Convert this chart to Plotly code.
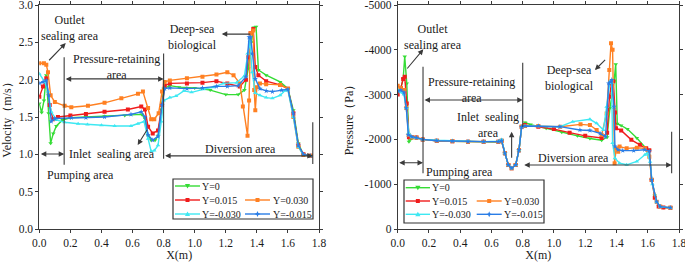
import plotly.graph_objects as go

# ---------------- data ----------------
series_names = ["Y=0", "Y=0.015", "Y=0.030", "Y=-0.030", "Y=-0.015"]
series_colors = ["#35dc35", "#f01c1c", "#ff8022", "#3ee8f2", "#2a7de6"]
series_symbols = ["triangle-down", "square", "square", "triangle-up", "star"]

# Velocity (m/s) vs X (m)
vx_y0 = [0, 0.015, 0.03, 0.045, 0.06, 0.073, 0.09, 0.11, 0.15, 0.2, 0.3, 0.42, 0.55, 0.66, 0.68, 0.70, 0.72,
         0.745, 0.765, 0.785, 0.80, 0.84, 0.9, 1.0, 1.1, 1.2, 1.28, 1.32, 1.345, 1.365, 1.38, 1.395, 1.41,
         1.46, 1.55, 1.6, 1.635, 1.667, 1.70, 1.745]
v_y0 = [1.68, 1.56, 1.72, 2.06, 1.55, 1.15, 1.28, 1.38, 1.46, 1.49, 1.50, 1.51, 1.52, 1.535, 1.48, 1.25, 1.19,
        1.19, 1.25, 1.6, 1.88, 1.92, 1.90, 1.89, 1.86, 1.80, 1.80, 1.86, 2.15, 2.5, 2.7, 2.71, 2.13,
        2.06, 1.97, 1.88, 1.59, 1.15, 0.99, 0.98]

vx_y015 = [0, 0.024, 0.045, 0.067, 0.088, 0.12, 0.2, 0.3, 0.42, 0.57, 0.656, 0.68, 0.70, 0.73, 0.764, 0.79,
           0.807, 0.84, 0.95, 1.05, 1.14, 1.21, 1.29, 1.33, 1.345, 1.36, 1.377, 1.39, 1.41, 1.46, 1.55, 1.6,
           1.635, 1.667, 1.70, 1.745]
v_y015 = [1.77, 1.91, 2.02, 1.66, 1.47, 1.50, 1.52, 1.54, 1.57, 1.60, 1.64, 1.60, 1.37, 1.28, 1.32, 1.66,
          1.92, 1.95, 1.95, 1.96, 1.98, 1.95, 1.91, 2.0, 2.3, 2.62, 2.68, 2.17, 2.06, 1.98, 1.93, 1.88,
          1.55, 1.12, 1.0, 0.98]

vx_y030 = [0, 0.03, 0.045, 0.056, 0.073, 0.1, 0.163, 0.206, 0.313, 0.42, 0.528, 0.635, 0.667, 0.70, 0.72,
           0.74, 0.768, 0.79, 0.807, 0.84, 0.95, 1.05, 1.14, 1.21, 1.25, 1.29, 1.31, 1.34, 1.35, 1.36, 1.377,
           1.383, 1.39, 1.40, 1.42, 1.46, 1.55, 1.6, 1.635, 1.667, 1.70, 1.745]
v_y030 = [2.22, 2.22, 2.20, 2.10, 1.79, 1.70, 1.65, 1.63, 1.65, 1.69, 1.75, 1.81, 1.84, 1.62, 1.47,
          1.47, 1.55, 1.84, 1.97, 1.99, 2.02, 2.04, 2.07, 2.10, 2.06, 1.95, 1.64, 1.25, 1.72, 2.62, 2.66,
          1.86, 1.59, 1.90, 1.95, 1.94, 1.93, 1.88, 1.50, 1.10, 0.99, 0.98]

vx_ym030 = [0, 0.035, 0.056, 0.077, 0.11, 0.163, 0.25, 0.31, 0.4, 0.485, 0.59, 0.635, 0.674, 0.70, 0.72,
            0.74, 0.764, 0.785, 0.80, 0.84, 0.88, 0.93, 0.98, 1.055, 1.12, 1.184, 1.27, 1.32, 1.34, 1.355,
            1.37, 1.39, 1.42, 1.46, 1.50, 1.55, 1.58, 1.6, 1.635, 1.667, 1.70, 1.745]
v_ym030 = [2.08, 1.97, 1.84, 1.57, 1.46, 1.43, 1.41, 1.40, 1.39, 1.38, 1.38, 1.41, 1.44, 1.21, 1.04,
           1.05, 1.12, 1.44, 1.72, 1.76, 1.78, 1.85, 1.83, 1.87, 1.90, 1.95, 1.96, 2.05, 2.35, 2.52,
           2.10, 1.82, 1.79, 1.76, 1.75, 1.79, 1.85, 1.86, 1.50, 1.10, 0.99, 0.98]

vx_ym015 = [0, 0.024, 0.045, 0.06, 0.077, 0.1, 0.206, 0.3, 0.42, 0.59, 0.656, 0.68, 0.70, 0.73, 0.764,
            0.79, 0.807, 0.84, 0.95, 1.05, 1.14, 1.21, 1.28, 1.33, 1.35, 1.36, 1.37, 1.39, 1.42, 1.46, 1.5,
            1.56, 1.6, 1.635, 1.667, 1.70, 1.745]
v_ym015 = [1.95, 1.97, 1.99, 1.79, 1.44, 1.48, 1.49, 1.49, 1.50, 1.535, 1.57, 1.50, 1.26, 1.19, 1.24,
           1.66, 1.88, 1.89, 1.88, 1.89, 1.91, 1.91, 1.92, 2.04, 2.57, 2.57, 2.35, 2.01, 1.88, 1.85, 1.84,
           1.86, 1.87, 1.55, 1.12, 1.0, 0.98]

# Pressure (Pa) vs X (m)
px_y0 = [0, 0.02, 0.035, 0.045, 0.058, 0.072, 0.09, 0.12, 0.16, 0.25, 0.35, 0.45, 0.55, 0.644, 0.665, 0.686,
         0.708, 0.729, 0.755, 0.776, 0.793, 0.815, 0.85, 0.95, 1.05, 1.15, 1.23, 1.305, 1.34, 1.358, 1.372,
         1.385, 1.395, 1.405, 1.43, 1.47, 1.53, 1.59, 1.61, 1.625, 1.645, 1.67, 1.70, 1.745]
p_y0 = [-3100, -3150, -3350, -3850, -3250, -1950, -2020, -2030, -2000, -1970, -1960, -1950, -1950, -1940,
        -1960, -1690, -1430, -1355, -1430, -1760, -2280, -2380, -2330, -2250, -2160, -2080, -2020, -1980,
        -2050, -2700, -3000, -3300, -3680, -2350, -2310, -2230, -2030, -1800, -1750, -1100, -750, -500,
        -480, -475]

px_y015 = [0, 0.02, 0.035, 0.045, 0.058, 0.072, 0.09, 0.12, 0.16, 0.25, 0.35, 0.45, 0.55, 0.644, 0.665,
           0.686, 0.708, 0.729, 0.755, 0.776, 0.793, 0.815, 0.9, 1.0, 1.1, 1.2, 1.305, 1.34, 1.355, 1.368,
           1.38, 1.39, 1.397, 1.43, 1.495, 1.55, 1.59, 1.61, 1.625, 1.645, 1.67, 1.70, 1.745]
p_y015 = [-3000, -3150, -3350, -3400, -2800, -2050, -2050, -2040, -2000, -1970, -1960, -1950, -1950, -1950,
          -1970, -1690, -1430, -1355, -1430, -1760, -2280, -2320, -2280, -2230, -2150, -2080, -2030, -2150,
          -2950, -3250, -3300, -2600, -2250, -2200, -1990, -1880, -1800, -1760, -1100, -700, -500, -480,
          -475]

px_y030 = [0, 0.02, 0.04, 0.055, 0.07, 0.09, 0.12, 0.16, 0.25, 0.35, 0.45, 0.55, 0.644, 0.665, 0.686, 0.708,
           0.729, 0.755, 0.776, 0.793, 0.815, 0.9, 1.04, 1.17, 1.23, 1.273, 1.305, 1.337, 1.354, 1.365,
           1.375, 1.388, 1.398, 1.411, 1.42, 1.465, 1.53, 1.582, 1.61, 1.625, 1.657, 1.68, 1.745]
p_y030 = [-3200, -3150, -3100, -2700, -2100, -2050, -2040, -2000, -1970, -1960, -1950, -1950, -1950, -1970,
          -1690, -1430, -1355, -1430, -1760, -2280, -2300, -2300, -2284, -2336, -2320, -2210, -2100, -2580,
          -3550, -4145, -4000, -1470, -1800, -1725, -1840, -1800, -1815, -1800, -1614, -1094, -610, -500,
          -475]

px_ym030 = [0, 0.02, 0.04, 0.055, 0.07, 0.09, 0.12, 0.16, 0.25, 0.35, 0.45, 0.55, 0.644, 0.665, 0.686,
            0.708, 0.729, 0.755, 0.776, 0.793, 0.815, 0.9, 1.038, 1.12, 1.23, 1.273, 1.316, 1.337, 1.358,
            1.369, 1.375, 1.39, 1.42, 1.465, 1.53, 1.582, 1.597, 1.615, 1.63, 1.657, 1.68, 1.745]
p_ym030 = [-3100, -3050, -3000, -2700, -2150, -2050, -2030, -2000, -1980, -1970, -1960, -1950, -1960,
           -2000, -1690, -1430, -1355, -1430, -1760, -2280, -2300, -2300, -2284, -2396, -2448, -2359, -2210,
           -2730, -3289, -3260, -1917, -1582, -1470, -1433, -1507, -1656, -1693, -1500, -1000, -600, -500,
           -475]

px_ym015 = [0, 0.02, 0.04, 0.055, 0.068, 0.09, 0.12, 0.16, 0.25, 0.35, 0.45, 0.55, 0.644, 0.665, 0.686,
            0.708, 0.729, 0.755, 0.776, 0.793, 0.815, 0.9, 1.038, 1.166, 1.23, 1.295, 1.33, 1.35, 1.364,
            1.37, 1.384, 1.39, 1.41, 1.44, 1.51, 1.58, 1.61, 1.625, 1.657, 1.68, 1.745]
p_ym015 = [-3080, -3100, -3050, -2700, -2100, -2060, -2040, -2000, -1970, -1960, -1950, -1950, -1950,
           -1970, -1690, -1430, -1355, -1430, -1760, -2280, -2300, -2300, -2284, -2210, -2200, -2135, -2061,
           -3252, -3289, -3330, -2730, -1842, -1768, -1750, -1750, -1770, -1740, -1094, -610, -500, -475]

vel_x = [vx_y0, vx_y015, vx_y030, vx_ym030, vx_ym015]
vel_y = [v_y0, v_y015, v_y030, v_ym030, v_ym015]
pre_x = [px_y0, px_y015, px_y030, px_ym030, px_ym015]
pre_y = [p_y0, p_y015, p_y030, p_ym030, p_ym015]

x_ticks = [0.0, 0.2, 0.4, 0.6, 0.8, 1.0, 1.2, 1.4, 1.6, 1.8]
x_tick_text = ["0.0", "0.2", "0.4", "0.6", "0.8", "1.0", "1.2", "1.4", "1.6", "1.8"]
v_ticks = [0.0, 0.5, 1.0, 1.5, 2.0, 2.5, 3.0]
v_tick_text = ["0.0", "0.5", "1.0", "1.5", "2.0", "2.5", "3.0"]
p_ticks = [0, -1000, -2000, -3000, -4000, -5000]
p_tick_text = ["0", "-1000", "-2000", "-3000", "-4000", "-5000"]

# ---------------- layout helpers ----------------
W, H = 685, 262
FONT = "Liberation Serif, Times New Roman, serif"
TXT = "#1a1a1a"
LN = "#3a3a3a"


def pxp(x):
    return x / W


def pyp(y):
    return 1 - y / H


fig = go.Figure()

for i in range(5):
    fig.add_trace(go.Scatter(
        x=vel_x[i], y=vel_y[i], name=series_names[i], mode="lines+markers",
        line=dict(color=series_colors[i], width=1.4),
        marker=dict(symbol=series_symbols[i], size=4, color=series_colors[i], line=dict(width=0)),
        xaxis="x", yaxis="y", showlegend=False))
for i in range(5):
    fig.add_trace(go.Scatter(
        x=pre_x[i], y=pre_y[i], name=series_names[i], mode="lines+markers",
        line=dict(color=series_colors[i], width=1.4),
        marker=dict(symbol=series_symbols[i], size=4, color=series_colors[i], line=dict(width=0)),
        xaxis="x2", yaxis="y2", showlegend=False))

axis_common = dict(showline=True, linecolor=LN, linewidth=1, mirror="ticks", ticks="outside",
                   ticklen=3, tickcolor=LN, showgrid=False, zeroline=False, ticklabeloverflow="allow",
                   tickfont=dict(family=FONT, size=11.5, color=TXT))
ydom = [pyp(229), pyp(5)]

fig.update_layout(
    width=W, height=H, margin=dict(l=0, r=0, t=0, b=0),
    paper_bgcolor="white", plot_bgcolor="white",
    font=dict(family=FONT, color=TXT),
    xaxis=dict(domain=[pxp(39.3), pxp(319)], range=[0, 1.8], tickvals=x_ticks, ticktext=x_tick_text,
               anchor="y", title=dict(text="X(m)", standoff=5, font=dict(family=FONT, size=12, color=TXT)),
               automargin=False, **axis_common),
    yaxis=dict(domain=ydom, range=[0, 3], tickvals=v_ticks, ticktext=v_tick_text, anchor="x",
               title=dict(text="Velocity（m/s）", standoff=6, font=dict(family=FONT, size=12, color=TXT)),
               automargin=False, **axis_common),
    xaxis2=dict(domain=[pxp(397.7), pxp(679)], range=[0, 1.8], tickvals=x_ticks, ticktext=x_tick_text,
                anchor="y2", title=dict(text="X(m)", standoff=5, font=dict(family=FONT, size=12, color=TXT)),
                automargin=False, **axis_common),
    yaxis2=dict(domain=ydom, range=[0, -5000], tickvals=p_ticks, ticktext=p_tick_text, anchor="x2",
                title=dict(text="Pressure（Pa）", standoff=8, font=dict(family=FONT, size=12, color=TXT)),
                automargin=False, **axis_common),
)

annotations = []
shapes = []


def text(xa, ya, s, x, y, size=12):
    annotations.append(dict(xref=xa, yref=ya, x=x, y=y, text=s, showarrow=False,
                            xanchor="center", yanchor="middle", borderpad=0,
                            font=dict(family=FONT, size=size, color=TXT)))


def arrow(xa, ya, x_tail, y_tail, x_head, y_head, both=False):
    annotations.append(dict(xref=xa, yref=ya, axref=xa, ayref=ya, x=x_head, y=y_head,
                            ax=x_tail, ay=y_tail, text="", showarrow=True, arrowhead=2,
                            arrowsize=1, arrowwidth=1.1, arrowcolor=LN, standoff=0, startstandoff=0,
                            arrowside="end+start" if both else "end", startarrowhead=2,
                            startarrowsize=1))


def vline(xa, ya, x, y0, y1):
    shapes.append(dict(type="line", xref=xa, yref=ya, x0=x, x1=x, y0=y0, y1=y1,
                       line=dict(color=LN, width=1.1)))


# ---- left panel annotations ----
text("x", "y", "Outlet<br>sealing area", 0.198, 2.69)
arrow("x", "y", 0.054, 2.24, 0.17, 2.49)
text("x", "y", "Pressure-retaining<br>area", 0.498, 2.175)
arrow("x", "y", 0.16, 2.01, 0.80, 2.01, both=True)
vline("x", "y", 0.16, 0.86, 2.30)
vline("x", "y", 0.80, 0.94, 2.35)
vline("x", "y", 1.76, 0.87, 1.43)
arrow("x", "y", 0.0, 1.005, 0.16, 1.005, both=True)
text("x", "y", "Pumping area", 0.262, 0.72)
text("x", "y", "Inlet  sealing area", 0.471, 1.01)
arrow("x", "y", 0.70, 1.35, 0.633, 1.125)
arrow("x", "y", 0.80, 0.98, 1.76, 0.98, both=True)
text("x", "y", "Diversion area", 1.295, 1.07)
text("x", "y", "Deep-sea<br>biological", 0.983, 2.565)
arrow("x", "y", 1.367, 2.61, 1.174, 2.61)

# ---- right panel annotations ----
text("x2", "y2", "Outlet<br>sealing area", 0.228, -4292)
arrow("x2", "y2", 0.053, -3549, 0.164, -4011)
text("x2", "y2", "Pressure-retaining<br>area", 0.473, -3110)
arrow("x2", "y2", 0.162, -2879, 0.80, -2879, both=True)
vline("x2", "y2", 0.162, -1243, -3623)
vline("x2", "y2", 0.80, -2284, -3712)
vline("x2", "y2", 1.753, -1243, -2172)
arrow("x2", "y2", 0.0, -1480, 0.162, -1480, both=True)
text("x2", "y2", "Pumping area", 0.394, -1265)
text("x2", "y2", "Inlet  sealing<br>area", 0.58, -2329)
arrow("x2", "y2", 0.729, -1555, 0.729, -2172)
arrow("x2", "y2", 0.80, -1429, 1.753, -1429, both=True)
text("x2", "y2", "Diversion area", 1.124, -1585)
text("x2", "y2", "Deep-sea<br>biological", 1.102, -3370)
arrow("x2", "y2", 1.337, -3810, 1.262, -3549)

# ---- legends (drawn as boxes with sample lines) ----
marker_paths = {
    "triangle-down": "M-2.6,2 L2.6,2 L0,-2.6 Z",
    "triangle-up": "M-2.6,-2 L2.6,-2 L0,2.6 Z",
    "square": "M-2,-2 L2,-2 L2,2 L-2,2 Z",
    "star": "M0,3 L0.9,0.9 L3,0 L0.9,-0.9 L0,-3 L-0.9,-0.9 L-3,0 L-0.9,0.9 Z",
}
legend_slots = [(0, 0), (0, 1), (1, 1), (0, 2), (1, 2)]


def legend_box(box, rows, cols_line, cols_text):
    x0, x1, y0, y1 = box
    shapes.append(dict(type="rect", xref="paper", yref="paper", x0=pxp(x0), x1=pxp(x1),
                       y0=pyp(y1), y1=pyp(y0), line=dict(color="#333333", width=1.2),
                       fillcolor="white", layer="above"))
    for i, (c, r) in enumerate(legend_slots):
        ly = rows[r]
        lx0, lx1 = cols_line[c]
        shapes.append(dict(type="line", xref="paper", yref="paper", x0=pxp(lx0), x1=pxp(lx1),
                           y0=pyp(ly), y1=pyp(ly), line=dict(color=series_colors[i], width=1.4),
                           layer="above"))
        shapes.append(dict(type="path", xref="paper", yref="paper", xsizemode="pixel",
                           ysizemode="pixel", xanchor=pxp((lx0 + lx1) / 2), yanchor=pyp(ly),
                           path=marker_paths[series_symbols[i]], fillcolor=series_colors[i],
                           line=dict(width=0), layer="above"))
        annotations.append(dict(xref="paper", yref="paper", x=pxp(cols_text[c]), y=pyp(ly),
                                text=series_names[i], showarrow=False, xanchor="left",
                                yanchor="middle", borderpad=0,
                                font=dict(family=FONT, size=10, color=TXT)))


legend_box((173, 313, 179, 219), [186, 200, 214], [(175, 200), (245, 270)], [201, 272])
legend_box((404, 544, 180, 223), [187.7, 201, 214.3], [(405.7, 430), (476.7, 501.7)], [431, 503])

fig.update_layout(annotations=annotations, shapes=shapes)
fig.write_html("out.html", config={"displayModeBar": False},
               post_script="document.body.style.margin='0px';")
